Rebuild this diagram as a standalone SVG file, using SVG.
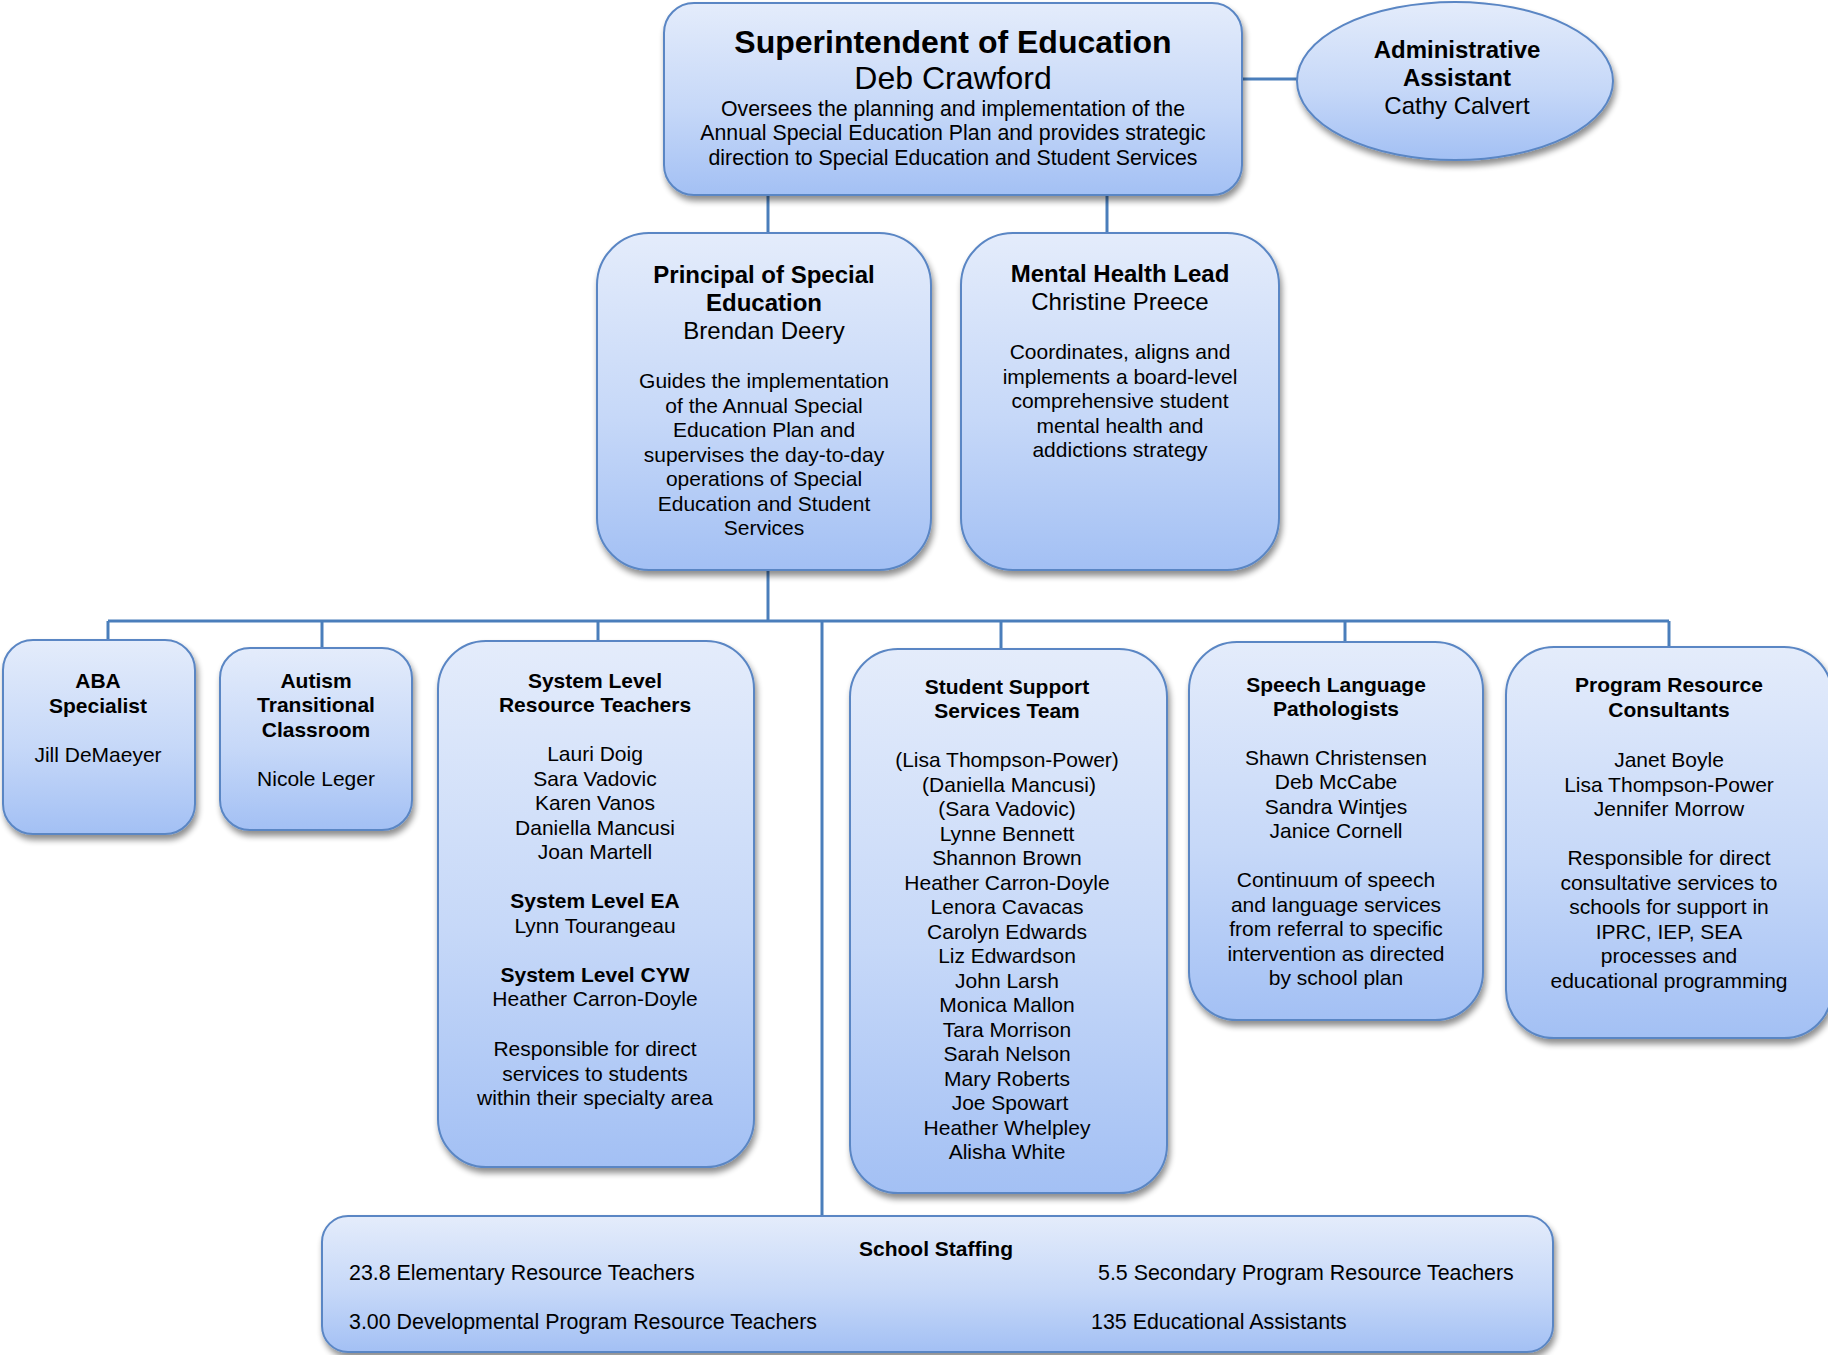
<svg xmlns="http://www.w3.org/2000/svg" width="1828" height="1355" viewBox="0 0 1828 1355">
<defs>
<linearGradient id="g" x1="0" y1="0" x2="0" y2="1">
<stop offset="0" stop-color="#e4ecfb"/>
<stop offset="0.55" stop-color="#c6d8f8"/>
<stop offset="1" stop-color="#a3c0f4"/>
</linearGradient>
<filter id="sh" x="-10%" y="-10%" width="125%" height="125%">
<feGaussianBlur in="SourceAlpha" stdDeviation="3"/>
<feOffset dx="2" dy="5" result="b"/>
<feComponentTransfer><feFuncA type="linear" slope="0.45"/></feComponentTransfer>
<feMerge><feMergeNode/><feMergeNode in="SourceGraphic"/></feMerge>
</filter>
</defs>
<style>
.box{fill:url(#g);stroke:#5a86c4;stroke-width:2;filter:url(#sh)}
.c{fill:none;stroke:#4a7ebb;stroke-width:3}
text{font-family:"Liberation Sans",Arial,sans-serif;fill:#000;text-anchor:middle;font-size:21px}
.b{font-weight:bold}
.l{text-anchor:start;font-size:21.4px}
.d{font-size:21.3px}
.t32{font-size:32px}
.t24{font-size:24px}
</style>
<rect width="1828" height="1355" fill="#fff"/>
<g id="connectors">
<path class="c" d="M1242 79 H1298"/>
<path class="c" d="M768 195 V233"/>
<path class="c" d="M1107 195 V233"/>
<path class="c" d="M768 570 V621"/>
<path class="c" d="M108 621 H1669"/>
<path class="c" d="M108 621 V640"/>
<path class="c" d="M322 621 V648"/>
<path class="c" d="M598 621 V641"/>
<path class="c" d="M1001 621 V649"/>
<path class="c" d="M1345 621 V642"/>
<path class="c" d="M1669 621 V647"/>
<path class="c" d="M822 621 V1216"/>
</g>
<g id="superintendent">
<rect class="box" x="664" y="3" width="578" height="192" rx="30"/>
<text class="b t32" x="953" y="53">Superintendent of Education</text>
<text class="t32" x="953" y="89">Deb Crawford</text>
<text class="d" x="953" y="116">Oversees the planning and implementation of the</text>
<text class="d" x="953" y="140">Annual Special Education Plan and provides strategic</text>
<text class="d" x="953" y="165">direction to Special Education and Student Services</text>
</g>
<g id="admin">
<ellipse class="box" cx="1455" cy="81" rx="158" ry="79"/>
<text class="b t24" x="1457" y="58">Administrative</text>
<text class="b t24" x="1457" y="86">Assistant</text>
<text class="t24" x="1457" y="114">Cathy Calvert</text>
</g>
<g id="principal">
<rect class="box" x="597" y="233" width="334" height="337" rx="52"/>
<text class="b t24" x="764" y="283">Principal of Special</text>
<text class="b t24" x="764" y="311">Education</text>
<text class="t24" x="764" y="339">Brendan Deery</text>
<text x="764" y="388">Guides the implementation</text>
<text x="764" y="413">of the Annual Special</text>
<text x="764" y="437">Education Plan and</text>
<text x="764" y="462">supervises the day-to-day</text>
<text x="764" y="486">operations of Special</text>
<text x="764" y="511">Education and Student</text>
<text x="764" y="535">Services</text>
</g>
<g id="mental-health">
<rect class="box" x="961" y="233" width="318" height="337" rx="52"/>
<text class="b t24" x="1120" y="282">Mental Health Lead</text>
<text class="t24" x="1120" y="310">Christine Preece</text>
<text x="1120" y="359">Coordinates, aligns and</text>
<text x="1120" y="384">implements a board-level</text>
<text x="1120" y="408">comprehensive student</text>
<text x="1120" y="433">mental health and</text>
<text x="1120" y="457">addictions strategy</text>
</g>
<g id="aba">
<rect class="box" x="3" y="640" width="192" height="194" rx="30"/>
<text class="b" x="98" y="688">ABA</text>
<text class="b" x="98" y="713">Specialist</text>
<text x="98" y="762">Jill DeMaeyer</text>
</g>
<g id="autism">
<rect class="box" x="220" y="648" width="192" height="182" rx="30"/>
<text class="b" x="316" y="688">Autism</text>
<text class="b" x="316" y="712">Transitional</text>
<text class="b" x="316" y="737">Classroom</text>
<text x="316" y="786">Nicole Leger</text>
</g>
<g id="system-level">
<rect class="box" x="438" y="641" width="316" height="526" rx="48"/>
<text class="b" x="595" y="688">System Level</text>
<text class="b" x="595" y="712">Resource Teachers</text>
<text x="595" y="761">Lauri Doig</text>
<text x="595" y="786">Sara Vadovic</text>
<text x="595" y="810">Karen Vanos</text>
<text x="595" y="835">Daniella Mancusi</text>
<text x="595" y="859">Joan Martell</text>
<text class="b" x="595" y="908">System Level EA</text>
<text x="595" y="933">Lynn Tourangeau</text>
<text class="b" x="595" y="982">System Level CYW</text>
<text x="595" y="1006">Heather Carron-Doyle</text>
<text x="595" y="1056">Responsible for direct</text>
<text x="595" y="1081">services to students</text>
<text x="595" y="1105">within their specialty area</text>
</g>
<g id="student-support">
<rect class="box" x="850" y="649" width="317" height="544" rx="48"/>
<text class="b" x="1007" y="694">Student Support</text>
<text class="b" x="1007" y="718">Services Team</text>
<text x="1007" y="767">(Lisa Thompson-Power)</text>
<text x="1009" y="792">(Daniella Mancusi)</text>
<text x="1007" y="816">(Sara Vadovic)</text>
<text x="1007" y="841">Lynne Bennett</text>
<text x="1007" y="865">Shannon Brown</text>
<text x="1007" y="890">Heather Carron-Doyle</text>
<text x="1007" y="914">Lenora Cavacas</text>
<text x="1007" y="939">Carolyn Edwards</text>
<text x="1007" y="963">Liz Edwardson</text>
<text x="1007" y="988">John Larsh</text>
<text x="1007" y="1012">Monica Mallon</text>
<text x="1007" y="1037">Tara Morrison</text>
<text x="1007" y="1061">Sarah Nelson</text>
<text x="1007" y="1086">Mary Roberts</text>
<text x="1010" y="1110">Joe Spowart</text>
<text x="1007" y="1135">Heather Whelpley</text>
<text x="1007" y="1159">Alisha White</text>
</g>
<g id="speech">
<rect class="box" x="1189" y="642" width="294" height="378" rx="48"/>
<text class="b" x="1336" y="692">Speech Language</text>
<text class="b" x="1336" y="716">Pathologists</text>
<text x="1336" y="765">Shawn Christensen</text>
<text x="1336" y="789">Deb McCabe</text>
<text x="1336" y="814">Sandra Wintjes</text>
<text x="1336" y="838">Janice Cornell</text>
<text x="1336" y="887">Continuum of speech</text>
<text x="1336" y="912">and language services</text>
<text x="1336" y="936">from referral to specific</text>
<text x="1336" y="961">intervention as directed</text>
<text x="1336" y="985">by school plan</text>
</g>
<g id="program-resource">
<rect class="box" x="1506" y="647" width="326" height="391" rx="48"/>
<text class="b" x="1669" y="692">Program Resource</text>
<text class="b" x="1669" y="717">Consultants</text>
<text x="1669" y="767">Janet Boyle</text>
<text x="1669" y="792">Lisa Thompson-Power</text>
<text x="1669" y="816">Jennifer Morrow</text>
<text x="1669" y="865">Responsible for direct</text>
<text x="1669" y="890">consultative services to</text>
<text x="1669" y="914">schools for support in</text>
<text x="1669" y="939">IPRC, IEP, SEA</text>
<text x="1669" y="963">processes and</text>
<text x="1669" y="988">educational programming</text>
</g>
<g id="school-staffing">
<rect class="box" x="322" y="1216" width="1231" height="136" rx="26"/>
<text class="b" x="936" y="1256">School Staffing</text>
<text class="l" x="349" y="1280">23.8 Elementary Resource Teachers</text>
<text class="l" x="1098" y="1280">5.5 Secondary Program Resource Teachers</text>
<text class="l" x="349" y="1329">3.00 Developmental Program Resource Teachers</text>
<text class="l" x="1091" y="1329">135 Educational Assistants</text>
</g>
</svg>
